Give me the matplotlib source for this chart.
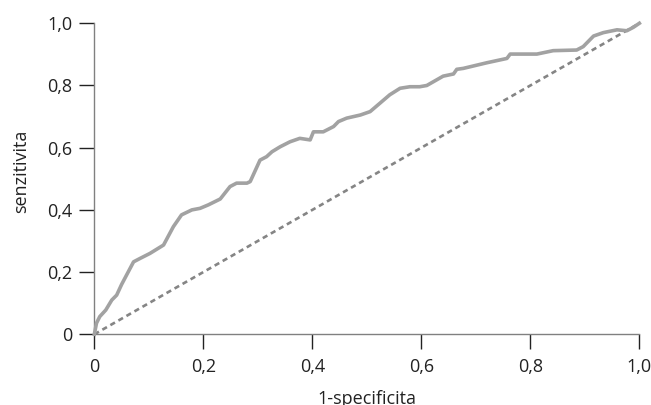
import matplotlib
matplotlib.use("Agg")
import matplotlib.pyplot as plt

# ROC curve
fpr = [0.0, 0.004, 0.01, 0.021, 0.032, 0.041, 0.05, 0.059, 0.072, 0.084,
       0.102, 0.127, 0.145, 0.16, 0.179, 0.194, 0.209, 0.231, 0.249, 0.261,
       0.28, 0.286, 0.304, 0.316, 0.326, 0.341, 0.359, 0.377, 0.396, 0.402,
       0.42, 0.439, 0.448, 0.463, 0.488, 0.506, 0.524, 0.542, 0.561, 0.579,
       0.597, 0.61, 0.622, 0.64, 0.659, 0.665, 0.677, 0.72, 0.757, 0.763,
       0.812, 0.842, 0.885, 0.897, 0.916, 0.934, 0.959, 0.977, 0.989, 1.0]
tpr = [0.0, 0.036, 0.057, 0.078, 0.11, 0.126, 0.16, 0.19, 0.233, 0.244,
       0.26, 0.287, 0.346, 0.384, 0.40, 0.405, 0.416, 0.435, 0.475, 0.486,
       0.486, 0.491, 0.56, 0.571, 0.587, 0.603, 0.619, 0.63, 0.625, 0.651,
       0.651, 0.668, 0.684, 0.695, 0.705, 0.716, 0.743, 0.77, 0.791, 0.796,
       0.796, 0.80, 0.812, 0.83, 0.837, 0.852, 0.855, 0.873, 0.887, 0.901,
       0.901, 0.912, 0.914, 0.925, 0.959, 0.97, 0.979, 0.976, 0.987, 1.0]

chance = [0.0, 1.0]

ticks = [0.0, 0.2, 0.4, 0.6, 0.8, 1.0]
tick_labels = ["0", "0,2", "0,4", "0,6", "0,8", "1,0"]

plt.rcParams['font.family'] = ['Open Sans', 'DejaVu Sans']

fig = plt.figure(figsize=(6.51, 4.05), dpi=100)
ax = fig.add_axes([0.1449, 0.1746, 0.8372, 0.7679])

ax.plot(chance, chance, color='#858585', lw=1.9, dashes=(2.0, 1.5),
        clip_on=False, zorder=2)
ax.plot(fpr, tpr, color='#a2a2a2', lw=2.6, solid_joinstyle='round',
        clip_on=False, zorder=3)

ax.set_xlim(0, 1)
ax.set_ylim(0, 1)
ax.set_xticks(ticks)
ax.set_xticklabels(tick_labels)
ax.set_yticks(ticks)
ax.set_yticklabels(tick_labels)

for side in ['top', 'right']:
    ax.spines[side].set_visible(False)
for side in ['left', 'bottom']:
    ax.spines[side].set_color('#808080')
    ax.spines[side].set_linewidth(1.0)

ax.tick_params(axis='x', length=11, width=1.0, color='#222222',
               labelsize=13, labelcolor='#222222', pad=6)
ax.tick_params(axis='y', length=11, width=1.0, color='#222222',
               labelsize=13, labelcolor='#222222', pad=5)

ax.set_xlabel("1-specificita", fontsize=13, color='#222222', labelpad=10)
ax.set_ylabel("senzitivita", fontsize=13, color='#222222')
ax.yaxis.set_label_coords(-0.118, 0.525)

fig.savefig("out.png", dpi=100)
